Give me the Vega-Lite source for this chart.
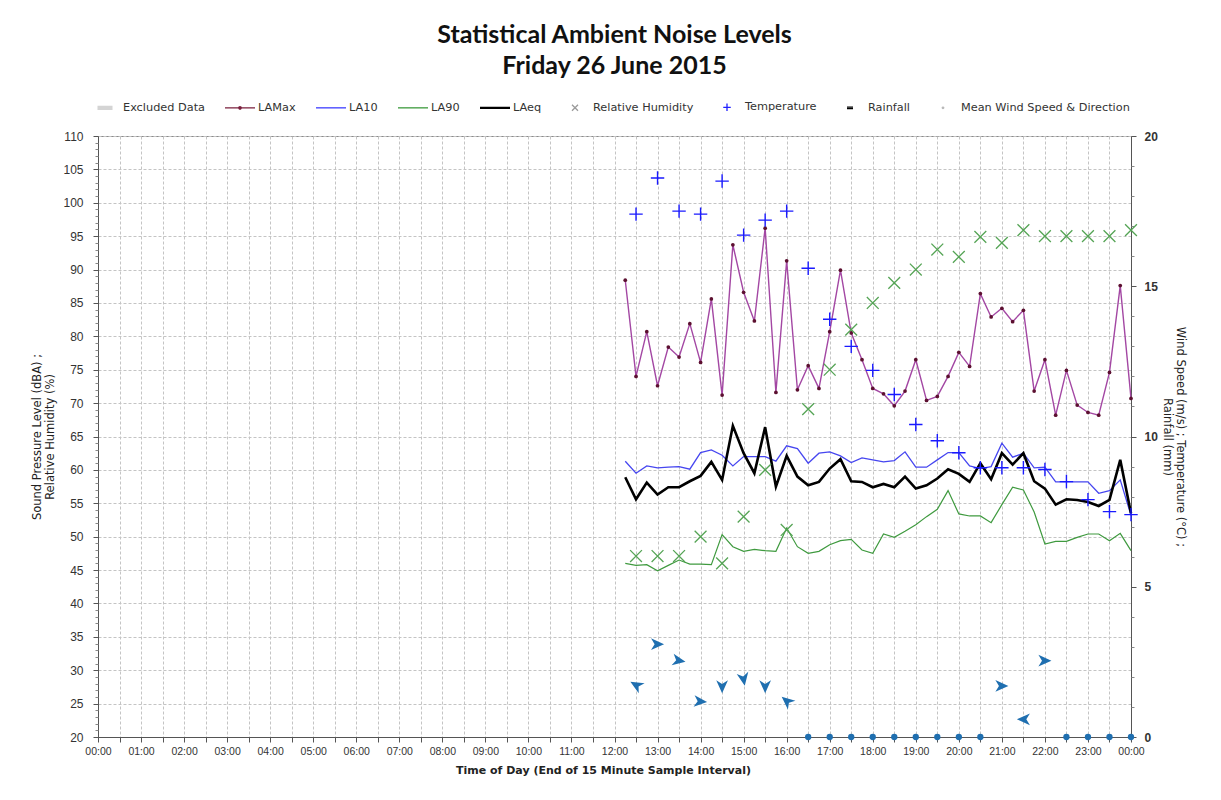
{
  "$schema": "https://vega.github.io/schema/vega-lite/v6.json",
  "width": 1033,
  "height": 601,
  "autosize": "none",
  "padding": {"left": 98, "top": 136, "right": 90, "bottom": 63},
  "background": "white",
  "title": {
    "text": ["Statistical Ambient Noise Levels", "Friday 26 June 2015"],
    "font": "Lato", "fontSize": 25, "fontWeight": "bold", "lineHeight": 31,
    "color": "#111111", "anchor": "middle", "offset": 12
  },
  "datasets": {
    "noise": [
      {"t": 12.25, "LAMax": 88.4, "LA10": 61.3, "LA90": 46.0, "LAeq": 58.9},
      {"t": 12.5, "LAMax": 74.0, "LA10": 59.5, "LA90": 45.7, "LAeq": 55.6},
      {"t": 12.75, "LAMax": 80.7, "LA10": 60.6, "LA90": 45.8, "LAeq": 58.1},
      {"t": 13.0, "LAMax": 72.6, "LA10": 60.3, "LA90": 44.9, "LAeq": 56.3},
      {"t": 13.25, "LAMax": 78.4, "LA10": 60.4, "LA90": 45.7, "LAeq": 57.4},
      {"t": 13.5, "LAMax": 76.9, "LA10": 60.5, "LA90": 46.5, "LAeq": 57.4},
      {"t": 13.75, "LAMax": 81.9, "LA10": 60.1, "LA90": 45.9, "LAeq": 58.3},
      {"t": 14.0, "LAMax": 76.1, "LA10": 62.6, "LA90": 45.9, "LAeq": 59.1},
      {"t": 14.25, "LAMax": 85.6, "LA10": 63.0, "LA90": 45.8, "LAeq": 61.2},
      {"t": 14.5, "LAMax": 71.2, "LA10": 62.2, "LA90": 50.3, "LAeq": 58.5},
      {"t": 14.75, "LAMax": 93.7, "LA10": 60.6, "LA90": 48.5, "LAeq": 66.6},
      {"t": 15.0, "LAMax": 86.6, "LA10": 62.0, "LA90": 47.8, "LAeq": 62.5},
      {"t": 15.25, "LAMax": 82.3, "LA10": 62.0, "LA90": 48.1, "LAeq": 59.5},
      {"t": 15.5, "LAMax": 96.2, "LA10": 62.0, "LA90": 47.9, "LAeq": 66.4},
      {"t": 15.75, "LAMax": 71.6, "LA10": 61.3, "LA90": 47.8, "LAeq": 57.5},
      {"t": 16.0, "LAMax": 91.3, "LA10": 63.6, "LA90": 51.3, "LAeq": 62.1},
      {"t": 16.25, "LAMax": 72.0, "LA10": 63.2, "LA90": 48.5, "LAeq": 59.0},
      {"t": 16.5, "LAMax": 75.6, "LA10": 61.0, "LA90": 47.5, "LAeq": 57.7},
      {"t": 16.75, "LAMax": 72.2, "LA10": 62.5, "LA90": 47.8, "LAeq": 58.2},
      {"t": 17.0, "LAMax": 80.7, "LA10": 62.7, "LA90": 48.8, "LAeq": 60.2},
      {"t": 17.25, "LAMax": 89.9, "LA10": 62.1, "LA90": 49.4, "LAeq": 61.6},
      {"t": 17.5, "LAMax": 80.5, "LA10": 61.1, "LA90": 49.6, "LAeq": 58.3},
      {"t": 17.75, "LAMax": 76.5, "LA10": 61.8, "LA90": 48.0, "LAeq": 58.2},
      {"t": 18.0, "LAMax": 72.2, "LA10": 61.5, "LA90": 47.5, "LAeq": 57.4},
      {"t": 18.25, "LAMax": 71.4, "LA10": 61.2, "LA90": 50.4, "LAeq": 57.9},
      {"t": 18.5, "LAMax": 69.6, "LA10": 61.4, "LA90": 49.9, "LAeq": 57.4},
      {"t": 18.75, "LAMax": 71.8, "LA10": 62.7, "LA90": 50.8, "LAeq": 59.0},
      {"t": 19.0, "LAMax": 76.5, "LA10": 60.4, "LA90": 51.8, "LAeq": 57.2},
      {"t": 19.25, "LAMax": 70.4, "LA10": 60.4, "LA90": 53.0, "LAeq": 57.7},
      {"t": 19.5, "LAMax": 71.0, "LA10": 61.5, "LA90": 54.1, "LAeq": 58.7},
      {"t": 19.75, "LAMax": 74.0, "LA10": 62.6, "LA90": 56.9, "LAeq": 60.1},
      {"t": 20.0, "LAMax": 77.6, "LA10": 62.6, "LA90": 53.4, "LAeq": 59.4},
      {"t": 20.25, "LAMax": 75.5, "LA10": 60.6, "LA90": 53.1, "LAeq": 58.2},
      {"t": 20.5, "LAMax": 86.4, "LA10": 60.2, "LA90": 53.1, "LAeq": 61.0},
      {"t": 20.75, "LAMax": 82.9, "LA10": 60.5, "LA90": 52.1, "LAeq": 58.6},
      {"t": 21.0, "LAMax": 84.2, "LA10": 64.0, "LA90": 54.8, "LAeq": 62.5},
      {"t": 21.25, "LAMax": 82.2, "LA10": 61.9, "LA90": 57.4, "LAeq": 60.8},
      {"t": 21.5, "LAMax": 83.9, "LA10": 62.5, "LA90": 57.0, "LAeq": 62.5},
      {"t": 21.75, "LAMax": 71.8, "LA10": 60.3, "LA90": 53.7, "LAeq": 58.3},
      {"t": 22.0, "LAMax": 76.5, "LA10": 60.4, "LA90": 48.9, "LAeq": 57.2},
      {"t": 22.25, "LAMax": 68.2, "LA10": 58.2, "LA90": 49.3, "LAeq": 54.8},
      {"t": 22.5, "LAMax": 74.9, "LA10": 58.2, "LA90": 49.3, "LAeq": 55.6},
      {"t": 22.75, "LAMax": 69.7, "LA10": 58.2, "LA90": 49.9, "LAeq": 55.5},
      {"t": 23.0, "LAMax": 68.6, "LA10": 58.2, "LA90": 50.4, "LAeq": 55.2},
      {"t": 23.25, "LAMax": 68.2, "LA10": 56.5, "LA90": 50.4, "LAeq": 54.6},
      {"t": 23.5, "LAMax": 74.6, "LA10": 56.9, "LA90": 49.4, "LAeq": 55.5},
      {"t": 23.75, "LAMax": 87.6, "LA10": 58.5, "LA90": 50.5, "LAeq": 61.5},
      {"t": 24.0, "LAMax": 70.7, "LA10": 53.2, "LA90": 47.9, "LAeq": 53.5}
    ],
    "met": [
      {"t": 12.5, "RH": 47.1, "Temp": 17.4, "WS": 1.73, "WD": 210},
      {"t": 13.0, "RH": 47.1, "Temp": 18.6, "WS": 3.09, "WD": 0},
      {"t": 13.5, "RH": 47.1, "Temp": 17.5, "WS": 2.54, "WD": 10},
      {"t": 14.0, "RH": 50.0, "Temp": 17.4, "WS": 1.18, "WD": 5},
      {"t": 14.5, "RH": 46.0, "Temp": 18.5, "WS": 1.67, "WD": 90},
      {"t": 15.0, "RH": 53.0, "Temp": 16.7, "WS": 1.92, "WD": 80},
      {"t": 15.5, "RH": 60.0, "Temp": 17.2, "WS": 1.67, "WD": 90},
      {"t": 16.0, "RH": 51.0, "Temp": 17.5, "WS": 1.2, "WD": 220},
      {"t": 16.5, "RH": 69.1, "Temp": 15.6, "WS": 0, "WD": null},
      {"t": 17.0, "RH": 75.0, "Temp": 13.9, "WS": 0, "WD": null},
      {"t": 17.5, "RH": 81.0, "Temp": 13.0, "WS": 0, "WD": null},
      {"t": 18.0, "RH": 85.0, "Temp": 12.2, "WS": 0, "WD": null},
      {"t": 18.5, "RH": 88.0, "Temp": 11.4, "WS": 0, "WD": null},
      {"t": 19.0, "RH": 90.0, "Temp": 10.4, "WS": 0, "WD": null},
      {"t": 19.5, "RH": 93.0, "Temp": 9.86, "WS": 0, "WD": null},
      {"t": 20.0, "RH": 91.9, "Temp": 9.46, "WS": 0, "WD": null},
      {"t": 20.5, "RH": 94.9, "Temp": 8.96, "WS": 0, "WD": null},
      {"t": 21.0, "RH": 94.0, "Temp": 8.96, "WS": 1.7, "WD": 0},
      {"t": 21.5, "RH": 95.9, "Temp": 8.96, "WS": 0.59, "WD": 180},
      {"t": 22.0, "RH": 95.0, "Temp": 8.9, "WS": 2.54, "WD": 0},
      {"t": 22.5, "RH": 95.0, "Temp": 8.5, "WS": 0, "WD": null},
      {"t": 23.0, "RH": 95.0, "Temp": 7.9, "WS": 0, "WD": null},
      {"t": 23.5, "RH": 95.0, "Temp": 7.5, "WS": 0, "WD": null},
      {"t": 24.0, "RH": 95.9, "Temp": 7.4, "WS": 0, "WD": null}
    ]
  },
  "encoding": {
    "x": {
      "field": "t", "type": "quantitative",
      "scale": {"domain": [0, 24], "nice": false, "zero": false},
      "axis": {
        "title": "Time of Day (End of 15 Minute Sample Interval)",
        "values": [0,0.5,1,1.5,2,2.5,3,3.5,4,4.5,5,5.5,6,6.5,7,7.5,8,8.5,9,9.5,10,10.5,11,11.5,12,12.5,13,13.5,14,14.5,15,15.5,16,16.5,17,17.5,18,18.5,19,19.5,20,20.5,21,21.5,22,22.5,23,23.5,24],
        "labelExpr": "datum.value % 1 == 0 ? ((datum.value % 24) < 10 ? '0' : '') + (datum.value % 24) + ':00' : ''",
        "labelOverlap": false, "labelFlush": false, "labelBound": false,
        "labelFont": "Liberation Sans", "labelFontSize": 10.5, "labelColor": "#333333",
        "labelPadding": 4, "tickSize": 5,
        "titleFont": "DejaVu Sans", "titleFontSize": 11, "titleFontWeight": "bold", "titleColor": "#222222",
        "titlePadding": 8, "titleX": 505,
        "grid": true
      }
    }
  },
  "layer": [
    {
      "data": {"name": "noise"},
      "mark": {"type": "line", "color": "#3f9a3f", "strokeWidth": 1.2},
      "encoding": {
        "y": {
          "field": "LA90", "type": "quantitative",
          "scale": {"domain": [20, 110], "nice": false, "zero": false},
          "axis": {
            "orient": "left",
            "title": ["Sound Pressure Level (dBA) ;", "Relative Humidity (%)"],
            "values": [20,25,30,35,40,45,50,55,60,65,70,75,80,85,90,95,100,105,110],
            "grid": true,
            "labelFont": "Liberation Sans", "labelFontSize": 12, "labelColor": "#333333",
            "labelPadding": 10, "tickSize": 5,
            "titleFont": "DejaVu Sans", "titleFontSize": 11.5, "titleFontWeight": "normal",
            "titleColor": "#222222", "titleLineHeight": 13, "titlePadding": 7
          }
        }
      }
    },
    {
      "data": {"name": "noise"},
      "mark": {"type": "line", "color": "#4646f0", "strokeWidth": 1.3},
      "encoding": {
        "y": {
          "field": "LA10", "type": "quantitative",
          "scale": {"domain": [20, 110], "nice": false, "zero": false},
          "axis": {
            "orient": "left", "title": null, "labels": false, "grid": false, "domain": false,
            "values": [21,22,23,24,26,27,28,29,31,32,33,34,36,37,38,39,41,42,43,44,46,47,48,49,51,52,53,54,56,57,58,59,61,62,63,64,66,67,68,69,71,72,73,74,76,77,78,79,81,82,83,84,86,87,88,89,91,92,93,94,96,97,98,99,101,102,103,104,106,107,108,109],
            "tickSize": 3, "tickColor": "#888888"
          }
        }
      }
    },
    {
      "data": {"name": "noise"},
      "mark": {"type": "line", "color": "#000000", "strokeWidth": 2.6},
      "encoding": {"y": {"field": "LAeq", "type": "quantitative", "scale": {"domain": [20, 110], "nice": false, "zero": false}, "axis": null}}
    },
    {
      "data": {"name": "noise"},
      "mark": {"type": "line", "color": "#a347a3", "strokeWidth": 1.4},
      "encoding": {"y": {"field": "LAMax", "type": "quantitative", "scale": {"domain": [20, 110], "nice": false, "zero": false}, "axis": null}}
    },
    {
      "data": {"name": "noise"},
      "mark": {"type": "point", "shape": "circle", "filled": true, "color": "#5c1030", "size": 14, "opacity": 1},
      "encoding": {"y": {"field": "LAMax", "type": "quantitative", "scale": {"domain": [20, 110], "nice": false, "zero": false}, "axis": null}}
    },
    {
      "data": {"name": "met"},
      "mark": {"type": "point", "shape": "M-1,-1L1,1M-1,1L1,-1", "filled": false, "color": "#55a455", "size": 140, "strokeWidth": 1.3, "opacity": 1},
      "encoding": {"y": {"field": "RH", "type": "quantitative", "scale": {"domain": [20, 110], "nice": false, "zero": false}, "axis": null}}
    },
    {
      "data": {"name": "met"},
      "mark": {"type": "point", "shape": "M-1,0H1M0,-1V1", "filled": false, "color": "#1a1aff", "size": 180, "strokeWidth": 1.4, "opacity": 1},
      "encoding": {
        "y": {
          "field": "Temp", "type": "quantitative",
          "scale": {"domain": [0, 20], "nice": false, "zero": false},
          "axis": {
            "orient": "right",
            "title": ["Wind Speed (m/s) ; Temperature (°C) ;", "Rainfall (mm)"],
            "values": [0, 5, 10, 15, 20],
            "grid": false,
            "labelFont": "Liberation Sans", "labelFontSize": 12, "labelFontWeight": "bold", "labelColor": "#333333",
            "labelPadding": 8, "tickSize": 5,
            "titleFont": "DejaVu Sans", "titleFontSize": 11.5, "titleFontWeight": "normal",
            "titleColor": "#222222", "titleLineHeight": 13, "titlePadding": 4
          }
        }
      }
    },
    {
      "data": {"name": "met"},
      "transform": [{"filter": "datum.WS > 0"}],
      "mark": {"type": "point", "shape": "M1,0L-1,-0.9L-0.45,0L-1,0.9Z", "filled": true, "color": "#1f6fb0", "size": 170, "opacity": 1},
      "encoding": {
        "y": {
          "field": "WS", "type": "quantitative",
          "scale": {"domain": [0, 20], "nice": false, "zero": false},
          "axis": {
            "orient": "right", "title": null, "labels": false, "grid": false, "domain": false,
            "values": [1,2,3,4,6,7,8,9,11,12,13,14,16,17,18,19],
            "tickSize": 3, "tickColor": "#888888"
          }
        },
        "angle": {"field": "WD", "type": "quantitative", "scale": null}
      }
    },
    {
      "data": {"name": "met"},
      "transform": [{"filter": "datum.WS == 0"}],
      "mark": {"type": "point", "shape": "circle", "filled": true, "color": "#1f6fb0", "size": 40, "opacity": 1},
      "encoding": {"y": {"field": "WS", "type": "quantitative", "scale": {"domain": [0, 20], "nice": false, "zero": false}, "axis": null}}
    },
    {
      "data": {"name": "met"},
      "transform": [{"filter": "false"}],
      "mark": {"type": "point", "filled": false, "opacity": 1, "strokeWidth": 1.3},
      "encoding": {
        "color": {
          "field": "series", "type": "nominal",
          "scale": {
            "domain": ["Excluded Data", "LAMax", "LA10", "LA90", "LAeq", "Relative Humidity", "Temperature", "Rainfall", "Mean Wind Speed & Direction"],
            "range": ["#d4d4d4", "#7a1f3d", "#3d3dff", "#3c9a3c", "#000000", "#9a9a9a", "#2020ff", "#000000", "#b8b8b8"]
          },
          "legend": {
            "orient": "none", "legendX": -9, "legendY": -45,
            "direction": "horizontal", "columns": 9, "title": null,
            "symbolSize": 900, "symbolStrokeWidth": 1.3,
            "labelFont": "DejaVu Sans", "labelFontSize": 11.3, "labelColor": "#333333",
            "labelOffset": 2, "columnPadding": 17, "padding": 0, "labelLimit": 300
          }
        },
        "shape": {
          "field": "series", "type": "nominal",
          "scale": {
            "domain": ["Excluded Data", "LAMax", "LA10", "LA90", "LAeq", "Relative Humidity", "Temperature", "Rainfall", "Mean Wind Speed & Direction"],
            "range": [
              "M-0.5,-0.1H0.5M-0.5,-0.05H0.5M-0.5,0H0.5M-0.5,0.05H0.5M-0.5,0.1H0.5",
              "M-1,0H1M-0.08,0A0.08,0.08 0 1,0 0.08,0A0.08,0.08 0 1,0 -0.08,0",
              "M-1,0H1",
              "M-1,0H1",
              "M-1,-0.03H1M-1,0.03H1",
              "M-0.2,-0.2L0.2,0.2M-0.2,0.2L0.2,-0.2",
              "M-0.25,0H0.25M0,-0.25V0.25",
              "M-0.2,-0.05H0.2M-0.2,0.05H0.2",
              "M-0.05,0A0.05,0.05 0 1,0 0.05,0A0.05,0.05 0 1,0 -0.05,0"
            ]
          }
        }
      }
    }
  ],
  "resolve": {"scale": {"y": "independent"}, "axis": {"y": "independent"}},
  "config": {
    "font": "Open Sans",
    "view": {"stroke": "#8a8a8a", "strokeWidth": 1},
    "axis": {
      "gridColor": "#c4c4c4", "gridDash": [3, 2], "gridWidth": 1,
      "domainColor": "#555555", "tickColor": "#555555"
    }
  }
}
